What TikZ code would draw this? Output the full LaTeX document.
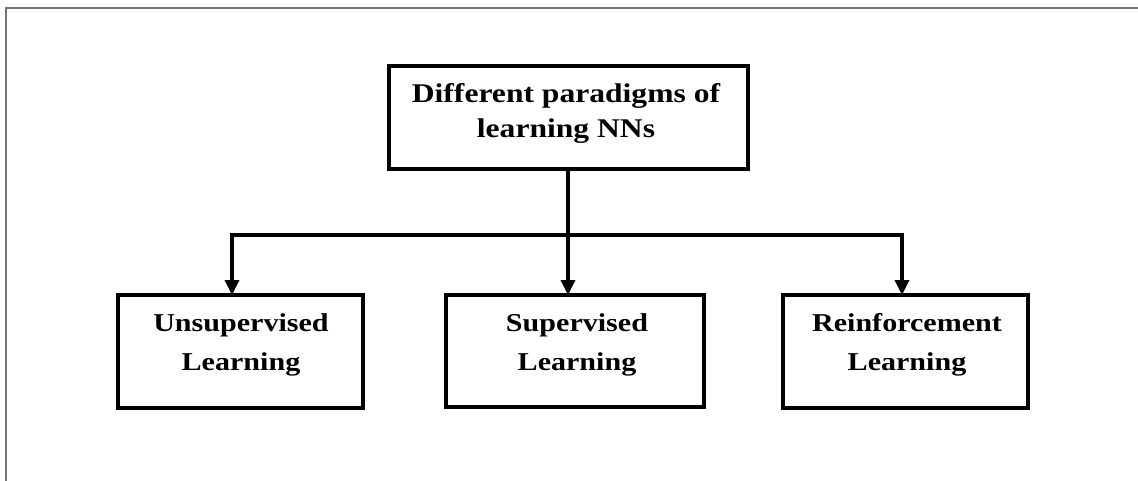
\documentclass[tikz,border=0pt]{standalone}
\usepackage{fontspec}
\setmainfont{Liberation Serif}[FakeStretch=1.17]
\usetikzlibrary{arrows.meta}
\begin{document}
\begin{tikzpicture}[x=1pt,y=-1pt,
  box/.style={draw=black,line width=4pt,inner sep=0pt,outer sep=0pt,fill=white},
  toptext/.style={align=center,font=\bfseries\fontsize{27}{35}\selectfont,inner sep=0pt},
  subtext/.style={align=center,font=\bfseries\fontsize{25.7}{39}\selectfont,inner sep=0pt},
  conn/.style={draw=black,line width=3.5pt,line join=miter},
  arr/.style={conn,-{Triangle[width=14pt,length=15pt]}},
  frame/.style={draw=black!55,line width=2pt}]
\useasboundingbox (0,0) rectangle (1138,481);
\draw[frame] (6,481) -- (6,8) -- (1138,8);
% boxes
\node[box,minimum width=359pt,minimum height=103pt] (top) at (568,117.5) {};
\node[box,minimum width=245pt,minimum height=113pt] (uns) at (240.5,351.5) {};
\node[box,minimum width=258pt,minimum height=112pt] (sup) at (575,351) {};
\node[box,minimum width=245pt,minimum height=113pt] (rein) at (905.5,351.5) {};
% texts
\node[toptext] (toplbl) at (566,113) {Different paradigms of\\learning NNs};
\node[subtext] (unslbl) at (241,345) {Unsupervised\\Learning};
\node[subtext] (suplbl) at (577,345) {Supervised\\Learning};
\node[subtext] (reinlbl) at (907,345) {Reinforcement\\Learning};
% connectors
\coordinate (jL) at (232,235);
\coordinate (jR) at (902,235);
\draw[arr] (top.south) -- (top.south |- sup.north);
\draw[arr] (top.south |- jL) -- (jL) -- (jL |- uns.north);
\draw[arr] (top.south |- jR) -- (jR) -- (jR |- rein.north);
\end{tikzpicture}
\end{document}
